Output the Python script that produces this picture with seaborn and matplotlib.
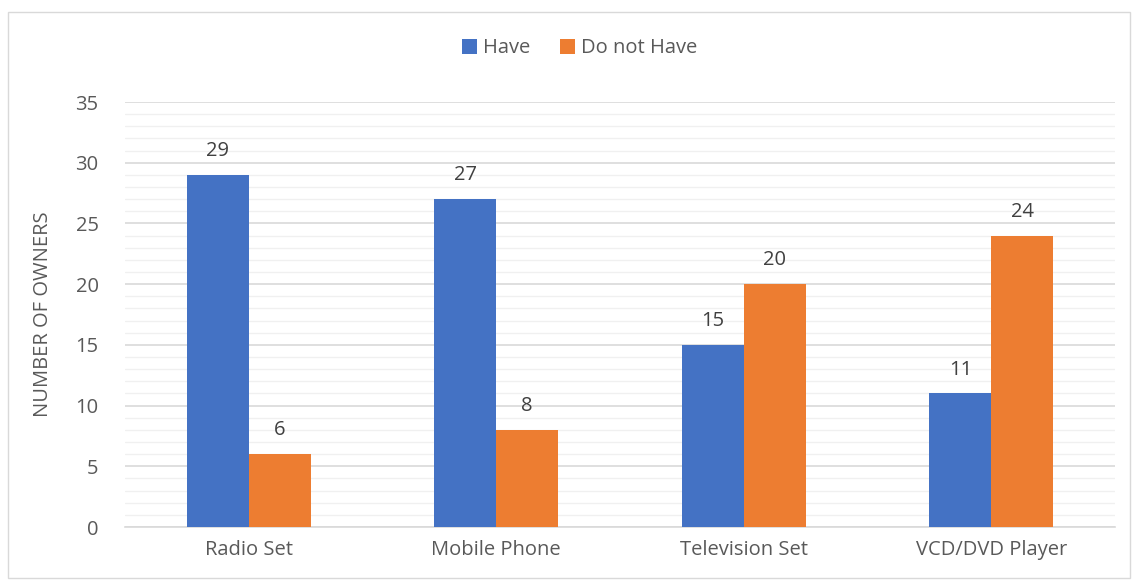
import matplotlib
matplotlib.use("Agg")
import matplotlib.pyplot as plt
import seaborn as sns
import pandas as pd
from matplotlib.patches import Rectangle

categories = ["Radio Set", "Mobile Phone", "Television Set", "VCD/DVD Player"]
have = [29, 27, 15, 11]
do_not_have = [6, 8, 20, 24]
series_names = ["Have", "Do not Have"]
y_ticks = [0, 5, 10, 15, 20, 25, 30, 35]

df = pd.DataFrame({
    "item": categories * 2,
    "count": have + do_not_have,
    "series": [series_names[0]] * len(categories) + [series_names[1]] * len(categories),
})

sns.set_theme(style="white")
plt.rcParams['font.family'] = ['Open Sans', 'DejaVu Sans']
gray = "#595959"
fs = 14.5

fig = plt.figure(figsize=(11.32, 5.81), dpi=100)
ax = fig.add_axes([0.1104, 0.0929, 0.8746, 0.7315])

palette = {"Have": "#4472C4", "Do not Have": "#ED7D31"}
sns.barplot(data=df, x="item", y="count", hue="series", palette=palette,
            width=0.5, ax=ax, saturation=1, legend=True, zorder=3, linewidth=0)

for c in ax.containers:
    ax.bar_label(c, labels=[f"{int(v)}" for v in c.datavalues], padding=10,
                 fontsize=fs, color="#404040")

ax.set_ylim(0, 35)
ax.set_xlim(-0.5, 3.5)
ax.set_yticks(y_ticks)
ax.set_yticks(range(0, 36), minor=True)
ax.grid(axis="y", which="major", color="#d9d9d9", linewidth=1.2, zorder=0)
ax.grid(axis="y", which="minor", color="#f0f0f0", linewidth=1.0, zorder=0)
ax.set_axisbelow(True)
for s in ["top", "right", "left"]:
    ax.spines[s].set_visible(False)
ax.spines["bottom"].set_color("#d9d9d9")
ax.spines["bottom"].set_linewidth(1.2)
ax.tick_params(axis="both", which="both", length=0, labelsize=fs, labelcolor=gray)
ax.tick_params(axis="y", pad=19)
ax.tick_params(axis="x", pad=9)
ax.set_xlabel("")
ax.set_ylabel("NUMBER OF OWNERS", fontsize=fs, color=gray, labelpad=16)

handles, labels = ax.get_legend_handles_labels()
ax.get_legend().remove()
leg = fig.legend(handles, labels, loc="center", bbox_to_anchor=(0.512, 0.917), ncol=2,
                 frameon=False, fontsize=fs, handlelength=0.75, handleheight=0.75,
                 columnspacing=1.5, handletextpad=0.3, borderaxespad=0)
for t in leg.get_texts():
    t.set_color(gray)

fig.patches.append(Rectangle((0.007, 0.005), 0.991, 0.975, transform=fig.transFigure,
                             fill=False, edgecolor="#d9d9d9", linewidth=1.0))

fig.savefig("out.png", dpi=100)
